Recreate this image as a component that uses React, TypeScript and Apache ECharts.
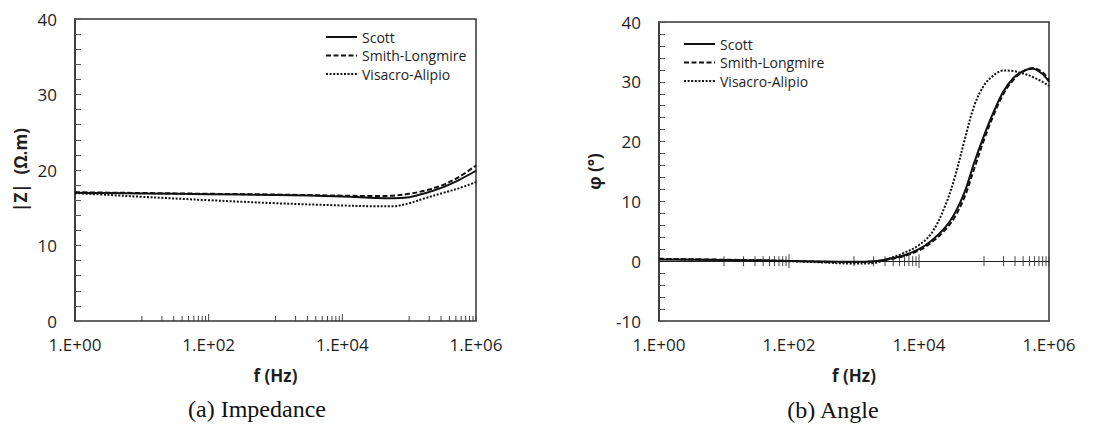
import React, { useEffect, useRef } from "react";
import * as echarts from "echarts";

// ---------- data ----------
const seriesNames = ["Scott", "Smith-Longmire", "Visacro-Alipio"];

// (a) Impedance |Z| (Ω.m) vs frequency (Hz)
const impFreq = [1, 3.16, 10, 100, 1000, 10000, 31623, 56234, 100000, 177828, 316228, 562341, 1000000];
const impScott = [17.0, 16.95, 16.9, 16.8, 16.7, 16.5, 16.3, 16.25, 16.4, 16.95, 17.7, 18.7, 19.9];
const impSmith = [17.05, 17.0, 16.95, 16.85, 16.75, 16.6, 16.55, 16.6, 16.85, 17.3, 18.0, 19.1, 20.6];
const impVisacro = [16.95, 16.7, 16.45, 16.0, 15.6, 15.3, 15.2, 15.2, 15.6, 16.3, 16.95, 17.6, 18.4];

// (b) Angle φ (°) vs frequency (Hz)
const angFreq = [1, 10, 100, 316, 1000, 1995, 3162, 5623, 10000, 15849, 25119, 35481, 50119, 70795, 100000, 141254, 199526, 281838, 398107, 562341, 794328, 1000000];
const angScott = [0.3, 0.2, 0.05, -0.05, -0.1, 0.0, 0.3, 0.9, 2.0, 3.5, 5.6, 8.0, 11.5, 16.5, 21.0, 25.0, 28.4, 30.6, 31.8, 32.2, 31.3, 30.0];
const angSmith = [0.4, 0.25, 0.05, -0.1, -0.15, -0.05, 0.25, 0.8, 1.8, 3.2, 5.2, 7.4, 10.7, 15.5, 20.3, 24.5, 28.0, 30.3, 31.7, 32.3, 31.6, 30.3];
const angVisacro = [0.35, 0.2, 0.0, -0.2, -0.4, -0.3, 0.3, 1.3, 2.7, 4.8, 9.2, 14.0, 20.2, 26.0, 29.4, 31.1, 31.9, 31.8, 31.4, 30.8, 30.0, 29.3];

// x-axis tick marks (Hz)
const majorTickFreqs = [100, 10000];
const minorTickFreqs = [
  10, 20, 30, 40, 50, 60, 70, 80, 90,
  1000, 2000, 3000, 4000, 5000, 6000, 7000, 8000, 9000,
  100000, 200000, 300000, 400000, 500000, 600000, 700000, 800000, 900000, 1000000,
];

const impTicks = [0, 40, 10];
const angTicks = [-10, 40, 10];

// ---------- styles ----------
const FONT = "Open Sans";
const INK = "#1e1e1e";
const lineTypes: any[] = ["solid", [5, 2.5], [2, 1.6]];

function pairs(xs: number[], ys: number[]) {
  return xs.map((x, i) => [x, ys[i]]);
}

function xAxisFor(gridIndex: number) {
  return {
    type: "log",
    logBase: 10,
    gridIndex,
    min: 1,
    max: 1000000,
    axisLine: { show: false },
    axisTick: { show: false },
    splitLine: { show: false },
    axisLabel: {
      fontSize: 17,
      fontFamily: FONT,
      color: INK,
      margin: 15,
      formatter: (v: number) => {
        const e = Math.round(Math.log10(v));
        return e % 2 === 0 ? "1.E+" + (e < 10 ? "0" : "") + e : "";
      },
    },
    name: "f (Hz)",
    nameLocation: "middle",
    nameGap: 46,
    nameTextStyle: { fontSize: 17, fontWeight: "bold", fontFamily: FONT, color: INK },
  };
}

function yAxisFor(gridIndex: number, ticks: number[], name: string, nameGap: number) {
  return {
    type: "value",
    gridIndex,
    min: ticks[0],
    max: ticks[1],
    interval: ticks[2],
    axisLine: { show: true, lineStyle: { color: "#333", width: 1.5 } },
    axisTick: { show: true, inside: true, length: 6, lineStyle: { color: "#555" } },
    minorTick: { show: true, splitNumber: 5, length: 6, lineStyle: { color: "#555" } },
    splitLine: { show: false },
    axisLabel: { fontSize: 17, fontFamily: FONT, color: INK, margin: 18 },
    name,
    nameLocation: "middle",
    nameRotate: 90,
    nameGap,
    nameTextStyle: { fontSize: 17, fontWeight: "bold", fontFamily: FONT, color: INK },
  };
}

function tickSeries(axisIndex: number, freqs: number[], up: number, down: number, withZeroLine: boolean) {
  const s: any = {
    type: "custom",
    xAxisIndex: axisIndex,
    yAxisIndex: axisIndex,
    silent: true,
    z: 4,
    data: freqs.map((f) => [f, 0]),
    renderItem: (_params: any, api: any) => {
      const p = api.coord([api.value(0), api.value(1)]);
      return {
        type: "line",
        shape: { x1: p[0], y1: p[1] - up, x2: p[0], y2: p[1] + down },
        style: { stroke: "#444", lineWidth: 1 },
      };
    },
  };
  if (withZeroLine) {
    s.markLine = {
      silent: true,
      symbol: ["none", "none"],
      label: { show: false },
      lineStyle: { color: "#222", width: 1.2, type: "solid" },
      data: [{ yAxis: 0 }],
    };
  }
  return s;
}

function lineSeries(axisIndex: number, idx: number, xs: number[], ys: number[]) {
  return {
    type: "line",
    name: seriesNames[idx],
    xAxisIndex: axisIndex,
    yAxisIndex: axisIndex,
    data: pairs(xs, ys),
    symbol: "none",
    smooth: 0.35,
    z: 5,
    lineStyle: { color: "#111", width: 2, type: lineTypes[idx] },
    itemStyle: { color: "#111" },
  };
}

function legendFor(left: number, top: number) {
  return {
    orient: "vertical",
    left,
    top,
    padding: 0,
    itemWidth: 31,
    itemHeight: 14,
    itemGap: 4.5,
    selectedMode: false,
    itemStyle: { opacity: 0 },
    textStyle: { fontSize: 14, fontFamily: FONT, color: INK, lineHeight: 14 },
    data: seriesNames,
  };
}

export default function App() {
  const ref = useRef<HTMLDivElement>(null);

  useEffect(() => {
    if (!ref.current) return;
    const chart = echarts.init(ref.current, undefined, { renderer: "svg" });
    chart.setOption({
      animation: false,
      backgroundColor: "#ffffff",
      textStyle: { fontFamily: FONT },
      grid: [
        { left: 75, top: 19, width: 401, height: 302, show: true, borderColor: "#333", borderWidth: 1.5, backgroundColor: "transparent" },
        { left: 659, top: 22, width: 390, height: 299, show: true, borderColor: "#333", borderWidth: 1.5, backgroundColor: "transparent" },
      ],
      xAxis: [xAxisFor(0), xAxisFor(1)],
      yAxis: [yAxisFor(0, impTicks, "|Z|  (Ω.m)", 46), yAxisFor(1, angTicks, "φ (°)", 56)],
      legend: [legendFor(325, 30), legendFor(683, 37)],
      series: [
        tickSeries(0, minorTickFreqs, 5, 0, false),
        tickSeries(0, majorTickFreqs, 7, 0, false),
        lineSeries(0, 0, impFreq, impScott),
        lineSeries(0, 1, impFreq, impSmith),
        lineSeries(0, 2, impFreq, impVisacro),
        tickSeries(1, minorTickFreqs, 5, 5, true),
        tickSeries(1, majorTickFreqs, 7, 7, false),
        lineSeries(1, 0, angFreq, angScott),
        lineSeries(1, 1, angFreq, angSmith),
        lineSeries(1, 2, angFreq, angVisacro),
      ],
      graphic: [
        {
          type: "text",
          x: 257,
          y: 409,
          style: {
            text: "(a) Impedance",
            fontSize: 24,
            fontFamily: "Liberation Serif",
            fill: "#111",
            align: "center",
            verticalAlign: "middle",
          },
        },
        {
          type: "text",
          x: 833,
          y: 410,
          style: {
            text: "(b) Angle",
            fontSize: 24,
            fontFamily: "Liberation Serif",
            fill: "#111",
            align: "center",
            verticalAlign: "middle",
          },
        },
      ],
    });
    return () => chart.dispose();
  }, []);

  return (
    <div
      ref={ref}
      style={{ position: "fixed", left: 0, top: 0, width: 1097, height: 424, background: "#fff" }}
    />
  );
}
